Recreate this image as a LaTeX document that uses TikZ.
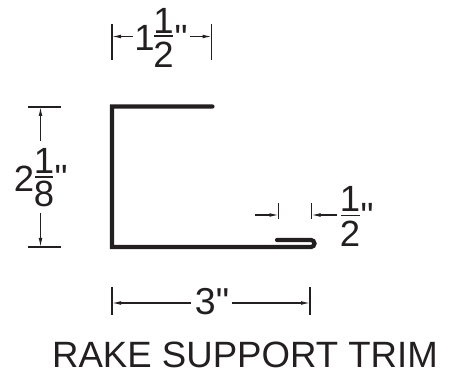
\documentclass[tikz,border=0pt]{standalone}
\usepackage{fontspec}
\setmainfont{Liberation Sans}[Ligatures=TeXOff]
\usetikzlibrary{arrows.meta}
\definecolor{ink}{HTML}{231F20}
\tikzset{
  x=1pt,y=-1pt,
  profile/.style={draw=ink,line width=4.2pt,line cap=round,line join=miter},
  tick/.style={draw=ink,line width=1.15pt},
  dim/.style={draw=ink,line width=1.1pt,-{Latex[length=9pt,width=3.8pt]}},
  bar/.style={draw=ink,line width=1.1pt},
  lab/.style={inner sep=0pt,text=ink},
  big/.style={lab,font=\fontsize{36.5}{36.5}\selectfont},
  mid/.style={lab,font=\fontsize{37.5}{37.5}\selectfont},
  title/.style={lab,font=\fontsize{36.6}{36.6}\selectfont},
}
\begin{document}
\begin{tikzpicture}
\useasboundingbox (0,0) rectangle (451,374);
% profile
\coordinate (pA) at (212.5,106.5);
\coordinate (pB) at (112,106.5);
\coordinate (pC) at (112,247);
\coordinate (pD) at (311,247);
\coordinate (pF) at (277,240);
\draw[profile] (pA) -- (pB) -- (pC) -- (pD) arc[start angle=-90,end angle=90,radius=3.5pt] -- (pF);
% top dimension
\coordinate (t1a) at (112,24); \coordinate (t1b) at (112,60);
\coordinate (t2a) at (211.5,24); \coordinate (t2b) at (211.5,60);
\coordinate (t1m) at (112,36.5); \coordinate (t2m) at (211.5,36.5);
\coordinate (t1s) at (133,36.5); \coordinate (t2s) at (190,36.5);
\draw[tick] (t1a) -- (t1b);
\draw[tick] (t2a) -- (t2b);
\draw[dim] (t1s) -- (t1m);
\draw[dim] (t2s) -- (t2m);
\node[big] (tw) at (144.5,38) {1};
\node[big] (tn) at (163.5,20.5) {1};
\node[big] (td) at (163.5,55) {2};
\coordinate (tba) at (154,36); \coordinate (tbb) at (173,36);
\draw[bar] (tba) -- (tbb);
\node[big] (tq) at (181,37.5) {"};
% left dimension
\coordinate (l1a) at (28,107); \coordinate (l1b) at (61,107);
\coordinate (l2a) at (28,247); \coordinate (l2b) at (61,247);
\coordinate (l1m) at (40.5,107); \coordinate (l2m) at (40.5,247);
\coordinate (l1s) at (40.5,141); \coordinate (l2s) at (40.5,213);
\draw[tick] (l1a) -- (l1b);
\draw[tick] (l2a) -- (l2b);
\draw[dim] (l1s) -- (l1m);
\draw[dim] (l2s) -- (l2m);
\node[big] (lw) at (24,178.5) {2};
\node[big] (ln) at (44,160.5) {1};
\node[big] (ld) at (44,193.5) {8};
\coordinate (lba) at (35,177); \coordinate (lbb) at (53,177);
\draw[bar] (lba) -- (lbb);
\node[big] (lq) at (61,177.5) {"};
% fold dimension
\coordinate (f1a) at (278.5,203); \coordinate (f1b) at (278.5,219);
\coordinate (f2a) at (311.5,203); \coordinate (f2b) at (311.5,219);
\coordinate (f1m) at (278.5,215); \coordinate (f2m) at (311.5,215);
\coordinate (f1s) at (255,215); \coordinate (f2s) at (337,215);
\draw[tick] (f1a) -- (f1b);
\draw[tick] (f2a) -- (f2b);
\draw[dim] (f1s) -- (f1m);
\draw[dim] (f2s) -- (f2m);
\node[big] (fn) at (350,198.5) {1};
\node[big] (fd) at (350,233.5) {2};
\coordinate (fba) at (341,215.5); \coordinate (fbb) at (359.5,215.5);
\draw[bar] (fba) -- (fbb);
\node[big] (fq) at (367,216) {"};
% width dimension
\coordinate (w1a) at (112,287); \coordinate (w1b) at (112,315);
\coordinate (w2a) at (310,287); \coordinate (w2b) at (310,315);
\coordinate (w1m) at (112,303); \coordinate (w2m) at (310,303);
\coordinate (w1s) at (190.5,303); \coordinate (w2s) at (231.5,303);
\draw[tick] (w1a) -- (w1b);
\draw[tick] (w2a) -- (w2b);
\draw[dim] (w1s) -- (w1m);
\draw[dim] (w2s) -- (w2m);
\node[mid] (wt) at (212,301.5) {3"};
% title
\node[title] (ttl) at (245,355) {RAKE SUPPORT TRIM};
\end{tikzpicture}
\end{document}
